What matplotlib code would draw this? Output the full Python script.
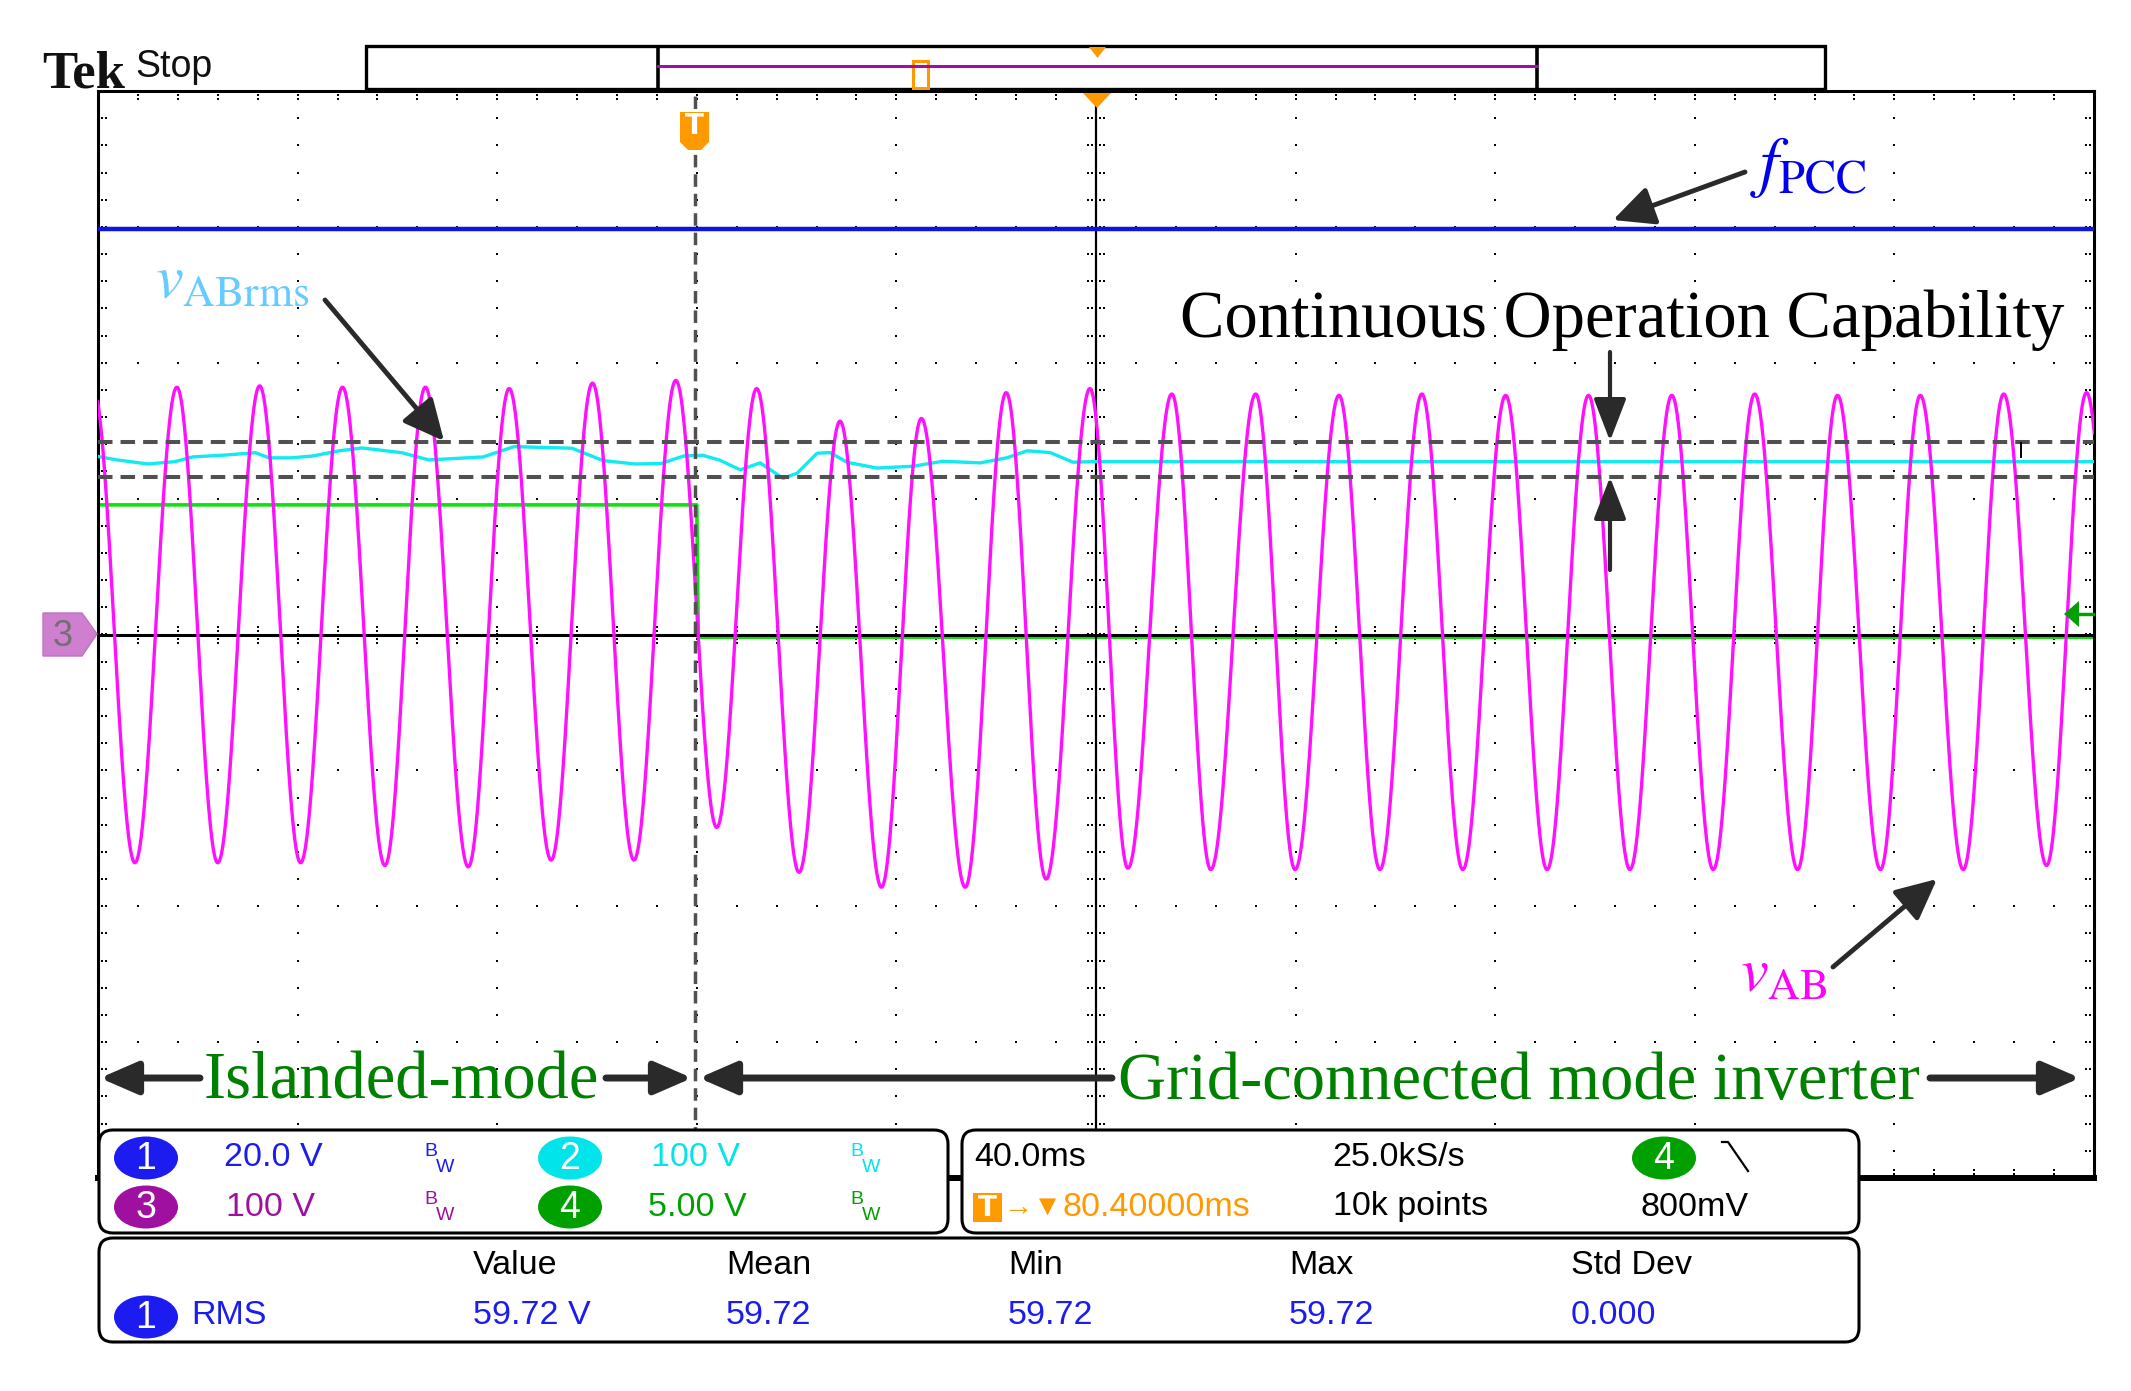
import numpy as np
import matplotlib
matplotlib.use('Agg')
import matplotlib.pyplot as plt
from matplotlib.patches import FancyBboxPatch, Ellipse, Polygon, Rectangle

plt.rcParams['mathtext.fontset'] = 'stix'
NARROW = 'Liberation Sans'
SERIF = 'Liberation Serif'

# ---------------- data ----------------
# ch3 v_AB : extrema (time ms, volts), 100 V/div, 0 V at centre
vab_t = [-1.0, 7.4, 15.8, 24.0, 32.4, 40.6, 49.0, 57.5, 65.6, 74.2, 82.4, 90.8, 99.1, 107.4, 115.8,
         124.0, 132.0, 140.5, 148.7, 157.0, 165.0, 173.8, 182.0, 190.0, 198.8,
         206.4, 215.2, 223.0, 232.0, 239.9, 248.7, 256.9, 265.3, 273.5, 282.1, 290.4, 298.7,
         307.0, 315.4, 323.7, 332.0, 340.6, 348.6, 357.2, 365.2, 373.8, 381.9, 390.5, 398.5, 406.8]
vab_v = [182, -168, 182, -168, 183, -168, 182, -170, 182, -171, 181, -166, 185, -166, 187,
         -142, 181, -175, 157, -186, 159, -186, 178, -180, 181,
         -172, 177, -173, 177, -173, 176, -173, 177, -173, 176, -173, 176,
         -173, 176, -173, 177, -173, 176, -173, 176, -173, 177, -170, 178, -172]

# ch2 v_ABrms trace (time ms, screen divisions)
rms_t = [0.2, 3.8, 10.0, 15.4, 19.0, 25.3, 31.5, 34.3, 38.7, 43.1, 48.5, 52.9, 60.9, 66.3, 69.9,
         77.2, 83.4, 87.8, 95.0, 101.2, 107.6, 112.8, 117.4, 121.2, 124.6, 128.7, 132.7, 137.3,
         140.1, 144.1, 146.7, 150.1, 156.1, 163.3, 169.3, 176.8, 182.2, 186.2, 190.8, 195.4,
         198.8, 400.0]
rms_v = [1.309, 1.285, 1.255, 1.272, 1.307, 1.320, 1.338, 1.300, 1.300, 1.314, 1.353, 1.373,
         1.338, 1.285, 1.292, 1.307, 1.383, 1.378, 1.371, 1.280, 1.255, 1.258, 1.314, 1.319,
         1.283, 1.212, 1.263, 1.149, 1.187, 1.334, 1.339, 1.268, 1.225, 1.238, 1.275, 1.263,
         1.301, 1.352, 1.339, 1.268, 1.272, 1.272]

# ch4 mode signal (time ms, divisions)
mode_t = [0.0, 120.0, 120.3, 400.0]
mode_v = [0.954, 0.954, -0.02, -0.02]

# ch1 f_PCC (time ms, divisions)
f_t = [0.0, 400.0]
f_v = [2.982, 2.982]

limits_div = [1.420, 1.162]     # continuous-operation band
trig_t = 119.6                  # trigger time (ms)

# ---------------- figure ----------------
W, H = 2131, 1391
fig = plt.figure(figsize=(W / 100, H / 100), dpi=100)
L, R, T, B = 98, 2094, 91, 1178
ax = fig.add_axes([L / W, 1 - B / H, (R - L) / W, (B - T) / H])
ax.set_xlim(0, 400)
ax.set_ylim(-4, 4)
ax.set_xticks([]); ax.set_yticks([])
for s in ['top', 'left', 'right']:
    ax.spines[s].set_linewidth(2.2)
ax.spines['bottom'].set_linewidth(4.3)

px_x = 400 / (R - L)
px_y = 8 / (B - T)

# grid dots
xsub = np.arange(0, 400.01, 8)
ysub = np.arange(-4, 4.001, 0.2)
gx, gy = [], []
for xm in np.arange(40, 400, 40):
    if xm == 200:
        continue
    gx += [xm] * len(ysub); gy += list(ysub)
for ym in range(-3, 4):
    if ym == 0:
        continue
    gx += list(xsub); gy += [ym] * len(xsub)
for xs in xsub:
    for o in (4, 8):
        gx += [xs, xs, xs, xs]; gy += [o * px_y, -o * px_y, 4 - o * px_y, -4 + o * px_y]
for ys in ysub:
    for o in (4, 8):
        gx += [200 + o * px_x, 200 - o * px_x, o * px_x, 400 - o * px_x]; gy += [ys] * 4
ax.scatter(gx, gy, s=3.5, marker='s', color='black', linewidths=0, zorder=1)

ax.axhline(0, color='black', lw=2.2, zorder=3)
ax.axvline(200, color='black', lw=1.6, zorder=3)


def halfcos(ts, vs, n=80):
    tt, vv = [], []
    for i in range(len(ts) - 1):
        s = np.linspace(0, 1, n, endpoint=False)
        tt.append(ts[i] + (ts[i + 1] - ts[i]) * s)
        vv.append(vs[i] + (vs[i + 1] - vs[i]) * (1 - np.cos(np.pi * s)) / 2)
    return np.concatenate(tt), np.concatenate(vv)


mt, mv = halfcos(vab_t, vab_v)
ax.plot(f_t, f_v, color='#0a14e6', lw=3.2, zorder=4)
ax.plot(mode_t, mode_v, color='#10e010', lw=2.6, zorder=2)
ax.plot(rms_t, rms_v, color='#10eaf0', lw=2.4, zorder=4)
ax.plot(mt, mv / 100.0, color='#ff10ff', lw=2.4, zorder=5)
for lv in limits_div:
    ax.axhline(lv, color='#505050', lw=2.9, ls=(0, (3.6, 2.0)), zorder=6)
ax.axvline(trig_t, color='#505050', lw=2.5, ls=(0, (3.6, 2.0)), zorder=6)

# ---------------- overlay in pixel coordinates ----------------
ov = fig.add_axes([0, 0, 1, 1], zorder=10)
ov.set_xlim(0, W); ov.set_ylim(H, 0); ov.axis('off')
ov.patch.set_alpha(0)

ORANGE = '#ff9900'
ov.text(42, 87, 'Tek', fontsize=38, fontweight='bold', family=SERIF, color='#111111', va='baseline')
ov.text(135, 67, 'Stop', fontsize=27, family=NARROW, color='#111111', va='center')

# record bar
ov.add_patch(Rectangle((366, 46), 1459, 43, fc='none', ec='black', lw=2.4))
ov.plot([658, 658], [47, 88], color='black', lw=2.6)
ov.plot([1537, 1537], [47, 88], color='black', lw=2.6)
ov.plot([658, 1537], [66, 66], color='#a010a0', lw=2.2)
ov.add_patch(Rectangle((913, 61), 15, 27, fc='white', ec=ORANGE, lw=2.2))
ov.add_patch(Polygon([(1089, 47), (1106, 47), (1097.5, 58)], closed=True, fc=ORANGE, ec='none'))
ov.add_patch(Polygon([(1083, 93), (1111, 93), (1097, 108)], closed=True, fc=ORANGE, ec='none'))

# trigger marker
ov.add_patch(Polygon([(680, 112), (709, 112), (709, 142), (701, 150), (688, 150), (680, 142)],
                     closed=True, fc=ORANGE, ec='none'))
ov.text(694.5, 126, 'T', fontsize=20, fontweight='bold', color='white', ha='center', va='center',
        family='DejaVu Sans')

# channel 3 ground marker
ov.add_patch(Polygon([(43, 613), (82, 613), (97, 634), (82, 656), (43, 656)], closed=True,
                     fc='#cf7fcf', ec='#c070c0', lw=1))
ov.text(63, 636, '3', fontsize=26, color='#707070', ha='center', va='center', family=NARROW)

# ch4 trigger level arrow
ov.add_patch(Polygon([(2064, 614), (2079, 601), (2079, 627)], closed=True, fc='#00a000', ec='none'))
ov.plot([2078, 2093], [614, 614], color='#00a000', lw=2.5)
ov.plot([2021, 2021], [443, 457], color='black', lw=1.4)

# annotations
ARR = '#2a2a2a'


def arrow(tail, tip, lw=3.5, hl=1.25, hw=0.6):
    ov.annotate('', xy=tip, xytext=tail,
                arrowprops=dict(arrowstyle=f'-|>,head_length={hl},head_width={hw}', color=ARR,
                                lw=lw, shrinkA=0, shrinkB=0, mutation_scale=20))


ov.text(1750, 167, r'$f_{\mathrm{PCC}}$', fontsize=48, color='#0000ee', va='center')
arrow((1745, 172), (1613, 220))
ov.text(155, 281, r'$v_{\mathrm{ABrms}}$', fontsize=45, color='#66ccff', va='center')
arrow((325, 300), (444, 441))
ov.text(1180, 320, 'Continuous Operation Capability', fontsize=48, family=SERIF, color='black',
        va='center')
arrow((1610, 352), (1610, 441), lw=3, hl=1.3, hw=0.5)
arrow((1610, 570), (1610, 477), lw=3, hl=1.3, hw=0.5)
ov.text(1740, 975, r'$v_{\mathrm{AB}}$', fontsize=45, color='#ff00ff', va='center')
arrow((1833, 967), (1937, 879))

GREEN_T = '#008000'
ov.text(204, 1082, 'Islanded-mode', fontsize=48, family=SERIF, color=GREEN_T, va='center')
ov.text(1118, 1082, 'Grid-connected mode inverter', fontsize=48, family=SERIF, color=GREEN_T,
        va='center')
for tail, tip in [((200, 1078), (100, 1078)), ((606, 1078), (692, 1078)),
                  ((1112, 1078), (699, 1078)), ((1930, 1078), (2080, 1078))]:
    arrow(tail, tip, lw=5, hl=1.15, hw=0.5)

# panels
for (x0, y0, x1, y1) in [(99, 1130, 948, 1233), (962, 1130, 1859, 1233), (99, 1238, 1859, 1342)]:
    ov.add_patch(FancyBboxPatch((x0, y0), x1 - x0, y1 - y0,
                                boxstyle='round,pad=0,rounding_size=14',
                                fc='white', ec='black', lw=2.2, zorder=2))

BLUE = '#1c1cf0'; CYAN = '#00e4ea'; PURP = '#a010a0'; GRN = '#00a000'


def badge(x, y, label, col):
    ov.add_patch(Ellipse((x, y), 64, 43, fc=col, ec='none', zorder=3))
    ov.text(x, y + 1, label, fontsize=27, color='white', ha='center', va='center',
            family=NARROW, zorder=4)


def ptxt(x, y, s, col, fs=24.5):
    ov.text(x, y, s, fontsize=fs, color=col, ha='left', va='center', family=[NARROW, 'DejaVu Sans'],
            zorder=4)


def bw(x, y, col):
    ov.text(x, y - 7, 'B', fontsize=14, color=col, ha='left', va='center', family=NARROW, zorder=4)
    ov.text(x + 12, y + 9, 'W', fontsize=14, color=col, ha='left', va='center', family=NARROW, zorder=4)


r1, r2 = 1158, 1207
badge(146, r1, '1', BLUE); ptxt(224, r1, '20.0 V', BLUE); bw(424, r1, BLUE)
badge(570, r1, '2', CYAN); ptxt(651, r1, '100 V', CYAN); bw(850, r1, CYAN)
badge(146, r2, '3', PURP); ptxt(226, r2, '100 V', PURP); bw(424, r2, PURP)
badge(570, r2, '4', GRN); ptxt(648, r2, '5.00 V', GRN); bw(850, r2, GRN)

ptxt(974, r1, '40.0ms', 'black')
ptxt(1332, r1, '25.0kS/s', 'black')
badge(1664, r1, '4', GRN)
ov.plot([1722, 1728, 1748], [1142, 1142, 1171], color='black', lw=1.6, zorder=4)
ov.add_patch(Rectangle((973, 1193), 29, 29, fc=ORANGE, ec='none', zorder=3))
ov.text(987.5, 1208, 'T', fontsize=20, color='white', ha='center', va='center',
        family='DejaVu Sans', fontweight='bold', zorder=4)
ptxt(1004, r2, '→▼', ORANGE, fs=21)
ptxt(1062, r2, '80.40000ms', ORANGE)
ptxt(1333, r2, '10k points', 'black')
ptxt(1641, r2, '800mV', 'black')

h1, h2 = 1266, 1315
for x, s in [(473, 'Value'), (726, 'Mean'), (1008, 'Min'), (1289, 'Max'), (1571, 'Std Dev')]:
    ptxt(x, h1, s, 'black')
badge(146, 1317, '1', BLUE)
for x, s in [(191, 'RMS'), (473, '59.72 V'), (726, '59.72'), (1008, '59.72'), (1289, '59.72'),
             (1571, '0.000')]:
    ptxt(x, h2, s, BLUE)

fig.savefig('out.png', dpi=100)
